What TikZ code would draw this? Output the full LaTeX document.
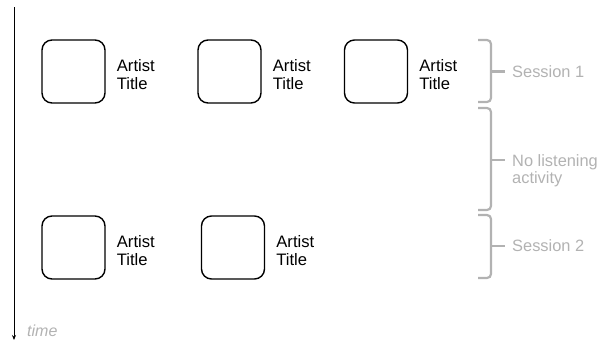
\documentclass[tikz,border=0pt]{standalone}
\usepackage{fontspec}
\setmainfont{Liberation Sans}
\usepackage{tikz}
\usetikzlibrary{positioning,arrows.meta}
\definecolor{bracegray}{RGB}{178,178,178}

\begin{document}
\begin{tikzpicture}[x=1pt,y=-1pt]
  \tikzset{coverbox/.style={draw=black,line width=1.4pt,rounded corners=10pt,minimum size=63pt,inner sep=0pt}}
  \tikzset{tracklabel/.style={font=\fontsize{16.6}{18}\selectfont,align=left,inner sep=0pt,text=black,yshift=-3pt}}
  \tikzset{sessionbrace/.style={draw=bracegray,line width=2.2pt,rounded corners=4pt}}
  \tikzset{sessionlabel/.style={font=\fontsize{16.4}{16.5}\selectfont,align=left,inner sep=0pt,text=bracegray}}
  \useasboundingbox (0,0) rectangle (601,340);
  \coordinate (axtop) at (14,7);
  \coordinate (axbot) at (14,340);
  \draw[line width=1pt,-{Stealth[length=5pt,width=4pt]}] (axtop) -- (axbot);
  \node[font=\fontsize{16}{17}\selectfont\itshape,text=bracegray,anchor=base west,inner sep=0pt] (timelabel) at (27,336) {time};
  \node[coverbox] (c1) at (73.5,71.5) {};
  \node[coverbox] (c2) at (229.5,71.5) {};
  \node[coverbox] (c3) at (376,71.5) {};
  \node[coverbox] (c4) at (73.5,247.5) {};
  \node[coverbox] (c5) at (233,247.5) {};
  \node[tracklabel,right=11pt of c1] (t1) {Artist\\Title};
  \node[tracklabel,right=11pt of c2] (t2) {Artist\\Title};
  \node[tracklabel,right=11pt of c3] (t3) {Artist\\Title};
  \node[tracklabel,right=11pt of c4] (t4) {Artist\\Title};
  \node[tracklabel,right=11pt of c5] (t5) {Artist\\Title};
  \draw[sessionbrace] (478,40) -- (491,40) -- (491,102) -- (478,102);
  \draw[sessionbrace] (491,71.5) -- (505,71.5);
  \draw[sessionbrace] (478,108) -- (491,108) -- (491,210) -- (478,210);
  \draw[sessionbrace] (491,160) -- (505,160);
  \draw[sessionbrace] (478,215) -- (491,215) -- (491,278) -- (478,278);
  \draw[sessionbrace] (491,246) -- (505,246);
  \node[sessionlabel,anchor=west] (s1) at (512,71.5) {Session 1};
  \node[sessionlabel,anchor=north west] (s2) at (512,154.5) {No listening\\activity};
  \node[sessionlabel,anchor=west] (s3) at (512,246) {Session 2};
\end{tikzpicture}
\end{document}
